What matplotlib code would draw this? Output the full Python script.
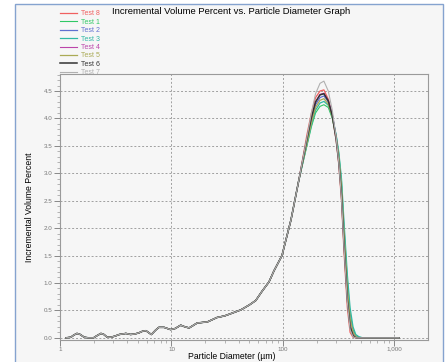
import numpy as np
from matplotlib import pyplot as plt
from matplotlib import patches
from matplotlib.ticker import FixedLocator, NullFormatter, MultipleLocator

plt.rcParams['font.family'] = ['Liberation Sans', 'DejaVu Sans']

# shared part of the distribution (all tests overlap here)
lowSize = [1.13, 1.25, 1.33, 1.42, 1.52, 1.65, 1.8, 2.0, 2.15, 2.33, 2.48, 2.65,
           2.85, 3.1, 3.4, 3.9, 4.3, 4.7, 5.1, 5.5, 5.9, 6.6, 7.2, 7.7, 8.6,
           9.8, 10.8, 12.1, 13.2, 14.4, 17, 21, 25.6, 30, 34, 42, 50, 57, 65,
           75, 83, 98, 118, 139]
lowPct = [0.0, 0.01, 0.05, 0.08, 0.06, 0.01, 0.0, 0.0, 0.04, 0.08, 0.06, 0.01,
          0.01, 0.03, 0.06, 0.08, 0.06, 0.07, 0.09, 0.12, 0.13, 0.06, 0.14, 0.19, 0.19,
          0.15, 0.17, 0.23, 0.20, 0.18, 0.27, 0.29, 0.37, 0.40, 0.44, 0.51, 0.60, 0.68, 0.85,
          1.02, 1.22, 1.50, 2.15, 2.88]

# peak region, one list per test
peakSize = [164, 180, 196, 215, 233, 255, 277, 300, 317, 335, 352, 378, 400,
            425, 450, 480, 520, 560, 800, 1100]
test8 = [3.70, 4.10, 4.38, 4.50, 4.52, 4.35, 4.05, 3.60, 3.15, 2.50, 1.60, 0.55, 0.10, 0.01, 0, 0, 0, 0, 0, 0]
test1 = [3.50, 3.85, 4.10, 4.22, 4.25, 4.20, 4.00, 3.68, 3.35, 2.85, 2.05, 1.05, 0.45, 0.15, 0.04, 0.01, 0, 0, 0, 0]
test2 = [3.55, 3.95, 4.25, 4.38, 4.41, 4.30, 4.06, 3.68, 3.30, 2.75, 1.95, 0.90, 0.35, 0.10, 0.02, 0, 0, 0, 0, 0]
test3 = [3.52, 3.88, 4.15, 4.28, 4.31, 4.24, 4.03, 3.70, 3.38, 2.90, 2.15, 1.15, 0.55, 0.20, 0.06, 0.02, 0, 0, 0, 0]
test4 = [3.60, 4.00, 4.30, 4.44, 4.46, 4.33, 4.08, 3.65, 3.25, 2.65, 1.80, 0.75, 0.25, 0.06, 0.01, 0, 0, 0, 0, 0]
test5 = [3.55, 3.92, 4.20, 4.33, 4.36, 4.26, 4.03, 3.66, 3.30, 2.75, 1.95, 0.90, 0.35, 0.10, 0.02, 0, 0, 0, 0, 0]
test6 = [3.62, 4.02, 4.30, 4.43, 4.45, 4.32, 4.05, 3.62, 3.20, 2.60, 1.75, 0.70, 0.20, 0.04, 0, 0, 0, 0, 0, 0]
test7 = [3.65, 4.10, 4.45, 4.64, 4.68, 4.50, 4.15, 3.65, 3.20, 2.55, 1.70, 0.65, 0.15, 0.02, 0, 0, 0, 0, 0, 0]

labels = ['Test 8', 'Test 1', 'Test 2', 'Test 3', 'Test 4', 'Test 5', 'Test 6', 'Test 7']
series = [test8, test1, test2, test3, test4, test5, test6, test7]
colors = ['#f06060', '#30c865', '#6070d0', '#30b8a5', '#bb45aa', '#aaaa55', '#333333', '#b0b0b0']
widths = [0.9, 0.8, 0.9, 0.9, 0.8, 0.9, 1.1, 0.8]

xTicks = [1, 10, 100, 1000]
xTickLabels = ['1', '10', '100', '1,000']

bg = '#f6f6f6'
fig = plt.figure(figsize=(4.45, 3.62), dpi=100, facecolor='white')

# blue framed panel behind everything
frame = patches.Rectangle((15 / 445, -0.05), 428 / 445, 1.05 - 4 / 362,
                          transform=fig.transFigure, facecolor=bg,
                          edgecolor='#85a3cf', linewidth=1.0, zorder=-5)
fig.patches.append(frame)

ax = fig.add_axes([60 / 445, 1 - 340 / 362, 368 / 445, 266 / 362])
ax.set_facecolor(bg)

for lab, ys, c, w in zip(labels, series, colors, widths):
    x = np.array(lowSize + peakSize)
    y = np.array(lowPct + ys)
    ax.plot(x, y, color=c, lw=w, label=lab)

ax.set_xscale('log')
ax.set_xlim(1, 2000)
ax.set_ylim(-0.04, 4.81)

ax.xaxis.set_major_locator(FixedLocator(xTicks))
ax.set_xticklabels(xTickLabels)
minors = [m * d for d in [1, 10, 100, 1000] for m in range(2, 10) if m * d < 2000]
ax.xaxis.set_minor_locator(FixedLocator(minors))
ax.xaxis.set_minor_formatter(NullFormatter())
ax.yaxis.set_major_locator(MultipleLocator(0.5))
ax.yaxis.set_minor_locator(MultipleLocator(0.1))
ax.yaxis.set_major_formatter(plt.FormatStrFormatter('%.1f'))

ax.tick_params(which='major', direction='out', length=4, width=0.7,
               color='#888888', labelsize=4.5, labelcolor='#777777', pad=1.5)
ax.tick_params(axis='x', which='major', length=4, pad=0.8)
ax.tick_params(which='minor', direction='out', length=2, width=0.5, color='#999999')
ax.tick_params(axis='x', which='minor', length=2.5)

ax.grid(True, which='major', color='#a0a0a0', linestyle=(0, (2, 2)), linewidth=0.7)
for s in ax.spines.values():
    s.set_color('#9a9a9a')
    s.set_linewidth(0.8)

# x label placed directly so it stays inside the canvas
fig.text(232 / 445, 1 - 356.5 / 362, 'Particle Diameter (\u00b5m)', fontsize=6.2,
         ha='center', va='center')
ax.set_ylabel('Incremental Volume Percent', fontsize=6.2, labelpad=7)

fig.text(112 / 445, 1 - 12 / 362, 'Incremental Volume Percent vs. Particle Diameter Graph',
         fontsize=6.8, va='center', ha='left')

leg = fig.legend(loc='upper left', bbox_to_anchor=(57 / 445, 1 - 7 / 362),
                 frameon=False, fontsize=5, handlelength=2.4, handletextpad=0.5,
                 labelspacing=0.2, borderpad=0, labelcolor='linecolor')

fig.savefig('out.png', dpi=100, facecolor='white')
